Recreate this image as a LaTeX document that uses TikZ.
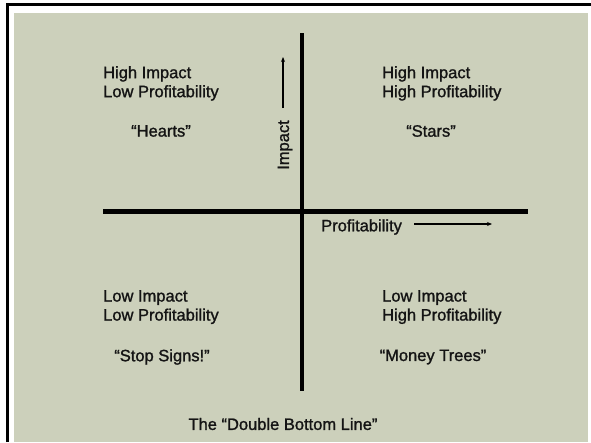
\documentclass[tikz,border=0pt]{standalone}
\usepackage{fontspec}
\setmainfont{Liberation Sans}[BoldFont={Liberation Sans},BoldFeatures={FakeBold=1.3}]
\usetikzlibrary{arrows.meta}
\definecolor{sage}{RGB}{204,208,187}
\begin{document}
\begin{tikzpicture}[x=1pt,y=-1pt,
  lbl/.style={font=\fontsize{16.5}{19}\selectfont\bfseries, inner sep=0pt, text=black!92},
  blk/.style={lbl, align=left, anchor=north west},
  axis/.style={line width=5pt},
  dirarrow/.style={line width=1.1pt, -{Stealth[length=5pt,width=4pt]}}]
\useasboundingbox (0,0) rectangle (591,442);
\fill[white] (0,0) rectangle (591,442);
\draw[line width=3pt] (7.5,442) -- (7.5,4.5) -- (591,4.5);
\fill[sage] (14,13) rectangle (588,442);
% axes
\coordinate (hl) at (103,211.5);
\coordinate (hr) at (528,211.5);
\coordinate (vt) at (302,33);
\coordinate (vb) at (302,391);
\draw[axis] (hl) -- (hr);
\draw[line width=4pt] (vt) -- (vb);
% axis labels
\node[lbl, rotate=90] (imp) at (285,145) {Impact};
\coordinate (ia1) at (283,108);
\coordinate (ia2) at (283,57);
\draw[dirarrow] (ia1) -- (ia2);
\node[lbl, anchor=west] (prof) at (321,227) {Profitability};
\coordinate (pa1) at (414,224);
\coordinate (pa2) at (492,224);
\draw[dirarrow] (pa1) -- (pa2);
% quadrants
\node[blk] (q1) at (103,66) {High Impact\\Low Profitability};
\node[lbl] (q1n) at (161,131) {“Hearts”};
\node[blk] (q2) at (382,66) {High Impact\\High Profitability};
\node[lbl] (q2n) at (431,131) {“Stars”};
\node[blk] (q3) at (103,290) {Low Impact\\Low Profitability};
\node[lbl] (q3n) at (162,357) {“Stop Signs!”};
\node[blk] (q4) at (382,290) {Low Impact\\High Profitability};
\node[lbl] (q4n) at (433,357) {“Money Trees”};
% title
\node[lbl] (title) at (283,424) {The “Double Bottom Line”};
\end{tikzpicture}
\end{document}
